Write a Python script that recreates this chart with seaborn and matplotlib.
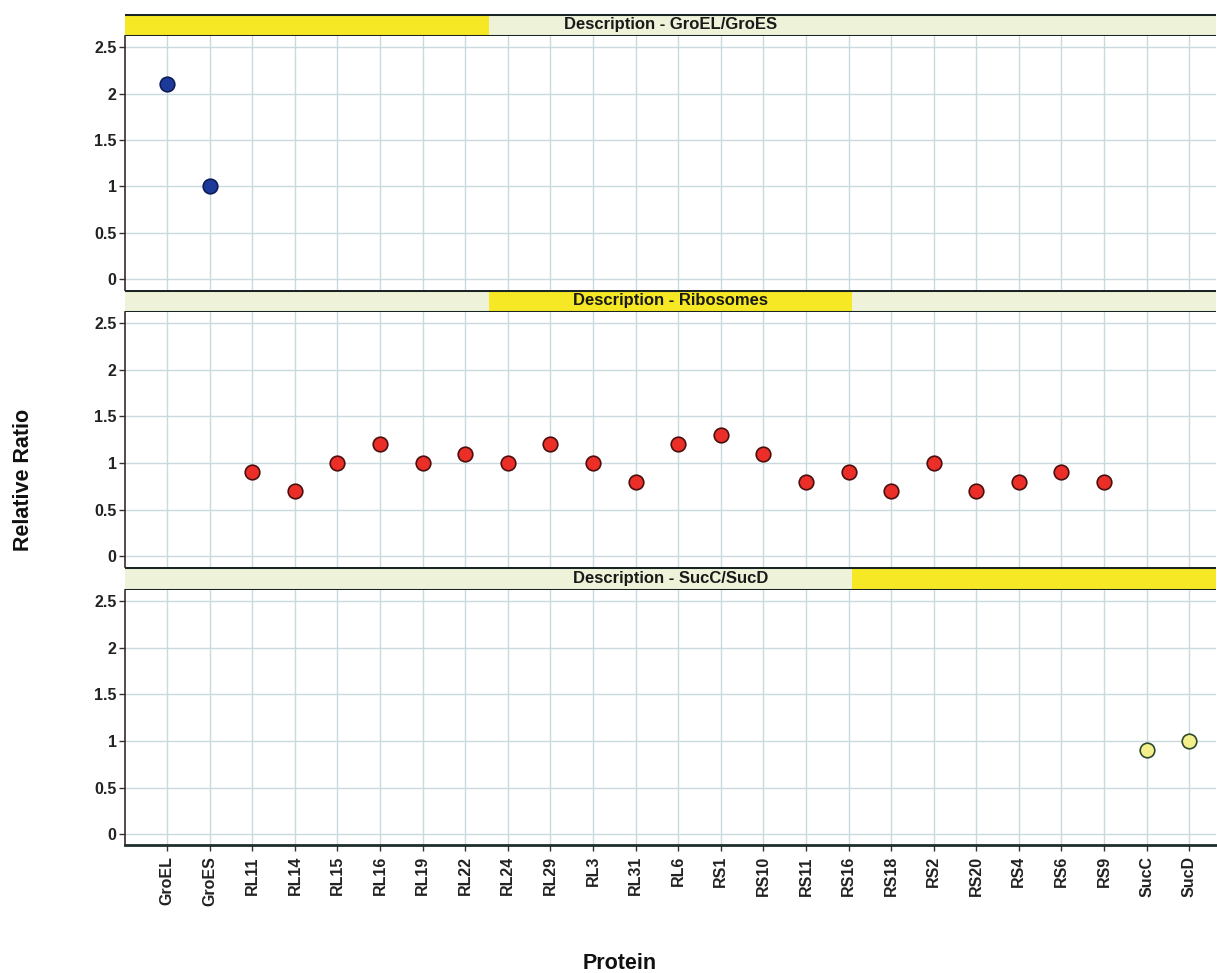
import matplotlib
matplotlib.use("Agg")
import matplotlib.pyplot as plt
import seaborn as sns
import pandas as pd
from matplotlib.patches import Rectangle

# Protein categories along the x axis
proteins = ["GroEL", "GroES", "RL11", "RL14", "RL15", "RL16", "RL19", "RL22",
            "RL24", "RL29", "RL3", "RL31", "RL6", "RS1", "RS10", "RS11", "RS16",
            "RS18", "RS2", "RS20", "RS4", "RS6", "RS9", "SucC", "SucD"]

# Group membership and relative ratios
groel_names = ["GroEL", "GroES"]
groel_values = [2.1, 1.0]

ribo_names = ["RL11", "RL14", "RL15", "RL16", "RL19", "RL22", "RL24", "RL29",
              "RL3", "RL31", "RL6", "RS1", "RS10", "RS11", "RS16", "RS18",
              "RS2", "RS20", "RS4", "RS6", "RS9"]
ribo_values = [0.9, 0.7, 1.0, 1.2, 1.0, 1.1, 1.0, 1.2, 1.0, 0.8, 1.2, 1.3,
               1.1, 0.8, 0.9, 0.7, 1.0, 0.7, 0.8, 0.9, 0.8]

suc_names = ["SucC", "SucD"]
suc_values = [0.9, 1.0]

panel_titles = ["Description - GroEL/GroES", "Description - Ribosomes",
                "Description - SucC/SucD"]
yticks = [0, 0.5, 1, 1.5, 2, 2.5]
ytick_labels = ["0", "0.5", "1", "1.5", "2", "2.5"]

groups = [
    (groel_names, groel_values, "#1d3a9a", "#0d1c55"),
    (ribo_names, ribo_values, "#ec2e28", "#4a1010"),
    (suc_names, suc_values, "#f2ef8c", "#2e4a2e"),
]

sns.set_theme(style="white")
plt.rcParams["font.family"] = ["Liberation Sans", "DejaVu Sans"]
plt.rcParams["font.weight"] = "bold"

W, H = 1217, 973
fig = plt.figure(figsize=(W / 100, H / 100), dpi=100)
fig.patch.set_facecolor("white")

left_px, right_px = 125, 1216
# (header top, plot top, plot bottom) in pixels
panels_px = [(14, 36, 290), (290, 312, 567), (567, 590, 845)]

grid_color = "#c9d9dd"
strip_fill = "#eef2d8"
strip_yellow = "#f6e824"
tick_fs = 11.5

for i, ((names, vals, face, edge), (htop, ptop, pbot)) in enumerate(zip(groups, panels_px)):
    fx0 = left_px / W
    fw = (right_px - left_px) / W
    # plot area
    ax = fig.add_axes([fx0, 1 - pbot / H, fw, (pbot - ptop) / H])
    df = pd.DataFrame({"Protein": names, "Relative Ratio": vals})
    sns.stripplot(data=df, x="Protein", y="Relative Ratio", order=proteins,
                  jitter=False, color=face, edgecolor=edge, linewidth=1.2,
                  size=10.5, ax=ax, zorder=5)
    ax.set_xlim(-0.99, 24.63)
    ax.set_ylim(-0.115, 2.62)
    ax.set_yticks(yticks)
    ax.set_yticklabels(ytick_labels, fontsize=tick_fs, fontweight="bold", color="#222222")
    ax.set_xticks(range(len(proteins)))
    ax.grid(True, color=grid_color, linewidth=1.0)
    ax.set_axisbelow(True)
    ax.set_ylabel("")
    ax.set_xlabel("")
    ax.tick_params(axis="y", left=True, length=4, width=1, color="#333333", pad=2)
    for s in ["top", "right"]:
        ax.spines[s].set_visible(False)
    ax.spines["left"].set_color("#3a2a2a")
    ax.spines["left"].set_linewidth(1.2)
    if i < 2:
        ax.spines["bottom"].set_visible(False)
        ax.tick_params(axis="x", bottom=False, labelbottom=False)
    else:
        ax.spines["bottom"].set_color("#1e2e2e")
        ax.spines["bottom"].set_linewidth(2.0)
        ax.set_xticklabels(proteins, rotation=90, fontsize=tick_fs, fontweight="bold",
                           color="#222222")
        ax.tick_params(axis="x", bottom=True, length=4, width=1, color="#333333", pad=4)

    # header strip with highlighted third
    hax = fig.add_axes([fx0, 1 - ptop / H, fw, (ptop - htop) / H])
    hax.set_xlim(0, 3)
    hax.set_ylim(0, 1)
    hax.axis("off")
    hax.add_patch(Rectangle((0, 0), 3, 1, facecolor=strip_fill, edgecolor="none"))
    hax.add_patch(Rectangle((i, 0), 1, 1, facecolor=strip_yellow, edgecolor="none"))
    hax.axhline(1, color="#1a2424", linewidth=2.2)
    hax.axhline(0, color="#1a2424", linewidth=2.2)
    hax.text(1.5, 0.5, panel_titles[i], ha="center", va="center",
             fontsize=12, fontweight="bold", color="#1a1a1a")

fig.text(24 / W, 1 - 480 / H, "Relative Ratio", rotation=90, ha="center", va="center",
         fontsize=15.5, fontweight="bold", color="#111111")
fig.text(620 / W, 1 - 969 / H, "Protein", ha="center", va="baseline",
         fontsize=15.5, fontweight="bold", color="#111111")

fig.savefig("out.png", dpi=100, facecolor="white")
